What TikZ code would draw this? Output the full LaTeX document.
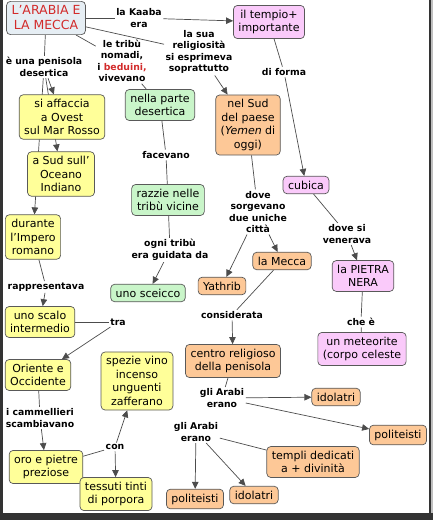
\documentclass[tikz,border=0pt]{standalone}
\usepackage{fontspec}
\setmainfont{DejaVu Sans}
\usetikzlibrary{
  arrows.meta,
  backgrounds,
  positioning,
}
\definecolor{boxyellow}{HTML}{FFFF99}
\definecolor{boxgreen}{HTML}{C9F5C9}
\definecolor{boxorange}{HTML}{FDC897}
\definecolor{boxpink}{HTML}{FACAFA}
\definecolor{boxblue}{HTML}{E6EEF4}
\definecolor{titlered}{HTML}{D22B2B}
\tikzset{
  >={Triangle[length=7pt,width=6.5pt]},
  box/.style={draw=black!65, line width=0.7pt, rounded corners=4pt, align=center,
    inner xsep=5pt, inner ysep=4.5pt, font=\fontsize{11}{13.5}\selectfont},
  yellowbox/.style={box, fill=boxyellow},
  greenbox/.style={box, fill=boxgreen},
  orangebox/.style={box, fill=boxorange},
  pinkbox/.style={box, fill=boxpink},
  titlebox/.style={box, fill=boxblue, text=titlered,
    font=\fontsize{12.5}{15}\selectfont},
  linklabel/.style={align=center, inner sep=1.5pt,
    font=\fontsize{9.3}{11.5}\selectfont\bfseries},
  connector/.style={draw=black!70, line width=0.7pt},
}

\begin{document}
\begin{tikzpicture}[x=1pt, y=-1pt]

        \useasboundingbox (0,0) rectangle (433,520);

        \fill [black!80] (0,0) rectangle (3,520);
        \fill [black!80] (0,513) rectangle (433,520);
        \fill [black!80] (428.5,0) rectangle (431,520);
        \fill [black!25] (431,0) rectangle (433,513);

        \node [titlebox] (arabia) at (46,18) {L'ARABIA E\\LA MECCA};

        \node [pinkbox] (tempio) at (269,22) {il tempio+\\importante};

        \node [yellowbox] (affaccia) at (62,117) {si affaccia\\a Ovest\\sul Mar Rosso};

        \node [yellowbox] (asud) at (61,174) {a Sud sull'\\Oceano\\Indiano};

        \node [greenbox] (desertica) at (160,105) {nella parte\\desertica};

        \node [orangebox] (nelsud) at (248,125) {nel Sud\\del paese\\(\textit{Yemen} di\\oggi)};

        \node [yellowbox] (impero) at (33,237) {durante\\l'Impero\\romano};

        \node [greenbox] (razzie) at (168,200) {razzie nelle\\tribù vicine};

        \node [greenbox] (sceicco) at (148,293) {uno sceicco};

        \node [yellowbox] (scalo) at (40,322) {uno scalo\\intermedio};

        \node [pinkbox] (cubica) at (306,185) {cubica};

        \node [orangebox] (mecca) at (282,261) {la Mecca};

        \node [orangebox] (yathrib) at (222,286) {Yathrib};

        \node [pinkbox] (pietra) at (363,276) {la PIETRA\\NERA};

        \node [pinkbox] (meteorite) at (362,349) {un meteorite\\(corpo celeste};

        \node [orangebox] (centro) at (233,361) {centro religioso\\della penisola};

        \node [yellowbox] (oriente) at (38,375) {Oriente e\\Occidente};

        \node [yellowbox] (spezie) at (137,381) {spezie vino\\incenso\\unguenti\\zafferano};

        \node [orangebox] (idolatriA) at (336,397) {idolatri};

        \node [orangebox] (politeistiA) at (398,435) {politeisti};

        \node [orangebox] (templi) at (313,462) {templi dedicati\\a + divinità};

        \node [yellowbox] (oro) at (46,467) {oro e pietre\\preziose};

        \node [yellowbox] (tessuti) at (116,494) {tessuti tinti\\di porpora};

        \node [orangebox] (politeistiB) at (195,499) {politeisti};

        \node [orangebox] (idolatriB) at (254,495) {idolatri};

        \node [linklabel] (kaaba) at (139,18) {la Kaaba\\era};
        \node [linklabel] (tribu) at (122,61) {le tribù\\nomadi,\\i \textcolor{titlered}{beduini,}\\vivevano};
        \node [linklabel] (religiosita) at (199,52) {la sua\\religiosità\\si esprimeva\\soprattutto};
        \node [linklabel] (penisola) at (44,67) {è una penisola\\desertica};
        \node [linklabel] (facevano) at (166,155) {facevano};
        \node [linklabel] (forma) at (284,72) {di forma};
        \node [linklabel] (guidata) at (170,250) {ogni tribù\\era guidata da};
        \node [linklabel] (sorgevano) at (258,212) {dove\\sorgevano\\due uniche\\città};
        \node [linklabel] (venerava) at (347,234) {dove si\\venerava};
        \node [linklabel] (rappresentava) at (46,287) {rappresentava};
        \node [linklabel] (tra) at (118,322) {tra};
        \node [linklabel] (considerata) at (232,315) {considerata};
        \node [linklabel] (chee) at (361,322) {che è};
        \node [linklabel] (arabiA) at (222,398) {gli Arabi\\erano};
        \node [linklabel] (arabiB) at (196,432) {gli Arabi\\erano};
        \node [linklabel] (cammellieri) at (40,418) {i cammellieri\\scambiavano};
        \node [linklabel] (con) at (115,447) {con};

        \begin{scope}[on background layer]
          \draw [connector] (arabia) -- (kaaba);
          \draw [connector, ->] (kaaba) -- (tempio);
          \draw [connector] (arabia) -- (tribu);
          \draw [connector] (tribu) -- (desertica);
          \draw [connector] (arabia) -- (religiosita);
          \draw [connector, ->] (religiosita) -- (nelsud);
          \draw [connector] (arabia) -- (penisola);
          \draw [connector, ->] (penisola) -- (affaccia);
          \draw [connector, ->] (penisola) -- (asud);
          \draw [connector, ->] (penisola) -- (impero);
          \draw [connector] (desertica) -- (facevano);
          \draw [connector] (facevano) -- (razzie);
          \draw [connector] (razzie) -- (guidata);
          \draw [connector, ->] (guidata) -- (sceicco);
          \draw [connector] (impero) -- (rappresentava);
          \draw [connector, ->] (rappresentava) -- (scalo);
          \draw [connector] (scalo) -- (tra);
          \draw [connector, ->] (tra) -- (oriente);
          \draw [connector] (oriente) -- (cammellieri);
          \draw [connector, ->] (cammellieri) -- (oro);
          \draw [connector] (oro) -- (con);
          \draw [connector, ->] (con) -- (spezie);
          \draw [connector, ->] (con) -- (tessuti);
          \draw [connector] (tempio) -- (forma);
          \draw [connector, ->] (forma) -- (cubica);
          \draw [connector] (nelsud) -- (sorgevano);
          \draw [connector, ->] (sorgevano) -- (yathrib);
          \draw [connector, ->] (sorgevano) -- (mecca);
          \draw [connector] (cubica) -- (venerava);
          \draw [connector, ->] (venerava) -- (pietra);
          \draw [connector] (pietra) -- (chee);
          \draw [connector] (chee) -- (meteorite);
          \draw [connector] (mecca) -- (considerata);
          \draw [connector, ->] (considerata) -- (centro);
          \draw [connector] (centro) -- (arabiA);
          \draw [connector, ->] (arabiA) -- (idolatriA);
          \draw [connector, ->] (arabiA) -- (politeistiA);
          \draw [connector] (templi) -- (arabiB);
          \draw [connector, ->] (arabiB) -- (politeistiB);
          \draw [connector, ->] (arabiB) -- (idolatriB);
        \end{scope}
      \end{tikzpicture}
\end{document}
